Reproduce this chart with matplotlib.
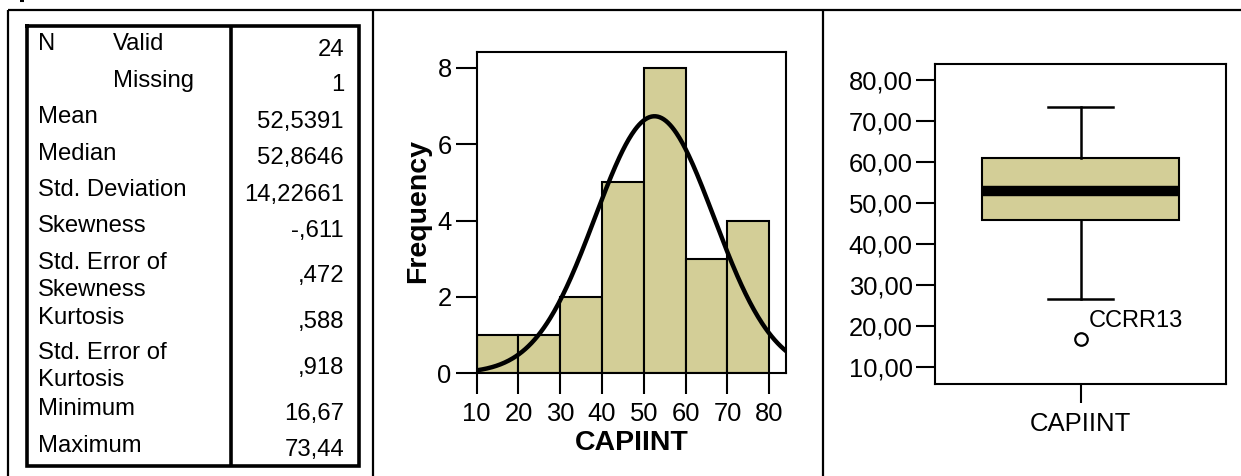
import numpy as np
import matplotlib
matplotlib.use("Agg")
import matplotlib.pyplot as plt
from matplotlib.ticker import FuncFormatter

plt.rcParams['font.family'] = ['Liberation Sans', 'DejaVu Sans']

# descriptive statistics table
stat_labels = ["Valid", "Missing", "Mean", "Median", "Std. Deviation", "Skewness",
               "Std. Error of\nSkewness", "Kurtosis", "Std. Error of\nKurtosis",
               "Minimum", "Maximum"]
stat_values = ["24", "1", "52,5391", "52,8646", "14,22661", "-,611",
               ",472", ",588", ",918", "16,67", "73,44"]

# histogram of CAPIINT
bin_edges = [10, 20, 30, 40, 50, 60, 70, 80]
bin_counts = [1, 1, 2, 5, 8, 3, 4]
n_valid = 24
mean_val = 52.5391
sd_val = 14.22661

# boxplot of CAPIINT
box_q1 = 45.8
box_median = 52.8646
box_q3 = 61.0
whisker_lo = 26.5
whisker_hi = 73.44
outliers = [16.67]
outlier_names = ["CCRR13"]

khaki = "#D3CE97"
W, H = 1241, 476

fig = plt.figure(figsize=(W / 100, H / 100), dpi=100)

# overlay in pixel coords for the frames and table
ov = fig.add_axes([0, 0, 1, 1])
ov.set_xlim(0, W)
ov.set_ylim(H, 0)
ov.axis("off")

# outer frame
ov.plot([8, W], [10, 10], color="black", lw=1.6, solid_capstyle="butt")
for xv in [8, 373, 823]:
    ov.plot([xv, xv], [10, H], color="black", lw=1.6, solid_capstyle="butt")
ov.plot([20, 24], [1, 1], color="black", lw=1.5, solid_capstyle="butt")

# inner stats table
tl, tr, tt, tb, tdiv = 26.5, 358.5, 25.5, 466, 230.5
ov.plot([tl, tr, tr, tl, tl], [tt, tt, tb, tb, tt], color="black", lw=2.6,
        solid_joinstyle="miter")
ov.plot([tdiv, tdiv], [tt, tb], color="black", lw=2.6, solid_capstyle="butt")

label_base = [50, 87, 123, 159.5, 196, 232, 268.7, 323.7, 358.7, 414.7, 452]
value_base = [56, 91.3, 128, 164, 200.7, 237.3, 282, 328, 374, 419.7, 456.3]
fs_tab = 17.2
ov.text(38, 50, "N", fontsize=fs_tab, va="baseline", ha="left")
for i, lab in enumerate(stat_labels):
    x0 = 113 if i < 2 else 38
    for j, line in enumerate(lab.split("\n")):
        ov.text(x0, label_base[i] + j * 27, line, fontsize=fs_tab,
                va="baseline", ha="left")
    ov.text(344, value_base[i], stat_values[i], fontsize=fs_tab,
            va="baseline", ha="right")

# histogram panel
ax1 = fig.add_axes([476.7 / W, 1 - 373.3 / H, (786 - 476.7) / W, (373.3 - 51.7) / H])
ax1.bar(bin_edges[:-1], bin_counts, width=10, align="edge", color=khaki,
        edgecolor="black", linewidth=1.5, zorder=2)
xs = np.linspace(10, 84, 300)
curve = n_valid * 10 / (sd_val * np.sqrt(2 * np.pi)) * np.exp(-0.5 * ((xs - mean_val) / sd_val) ** 2)
ax1.plot(xs, curve, color="black", lw=3.2, zorder=3)
ax1.set_xlim(10, 84)
ax1.set_ylim(0, 8.42)
ax1.set_xticks(bin_edges)
ax1.set_yticks([0, 2, 4, 6, 8])
ax1.tick_params(length=15, width=1.5, labelsize=18.4, color="black")
ax1.tick_params(axis="x", pad=6)
ax1.tick_params(axis="y", pad=3)
for sp in ax1.spines.values():
    sp.set_linewidth(1.5)
ov.text(418.5, 211, "Frequency", fontsize=20.5, fontweight="bold",
        rotation=90, ha="center", va="center")
ov.text(632, 450, "CAPIINT", fontsize=20.5, fontweight="bold",
        ha="center", va="baseline")

# boxplot panel
ax2 = fig.add_axes([935 / W, 1 - 384 / H, (1226 - 935) / W, (384 - 64) / H])
stats = [dict(med=box_median, q1=box_q1, q3=box_q3, whislo=whisker_lo,
              whishi=whisker_hi, fliers=outliers, label="CAPIINT")]
ax2.bxp(stats, positions=[1], widths=0.676, capwidths=0.223, patch_artist=True,
        boxprops=dict(facecolor=khaki, edgecolor="black", linewidth=1.5),
        medianprops=dict(color="black", linewidth=7.5, solid_capstyle="butt"),
        whiskerprops=dict(color="black", linewidth=1.8),
        capprops=dict(color="black", linewidth=1.8),
        flierprops=dict(marker="o", markersize=9, markerfacecolor="white",
                        markeredgecolor="black", markeredgewidth=1.6))
for val, name in zip(outliers, outlier_names):
    ax2.annotate(name, (1, val), xytext=(8, 12), textcoords="offset pixels",
                 fontsize=17, va="baseline", ha="left")
ax2.set_xlim(0.5, 1.5)
ax2.set_ylim(5.78, 83.9)
ax2.set_yticks([10, 20, 30, 40, 50, 60, 70, 80])
ax2.yaxis.set_major_formatter(FuncFormatter(lambda v, p: f"{v:.2f}".replace(".", ",")))
ax2.tick_params(length=14, width=1.5, color="black")
ax2.tick_params(axis="y", labelsize=18.4, pad=2)
ax2.tick_params(axis="x", labelsize=18.5, pad=6)
for sp in ax2.spines.values():
    sp.set_linewidth(1.5)

fig.savefig("out.png", dpi=100)
